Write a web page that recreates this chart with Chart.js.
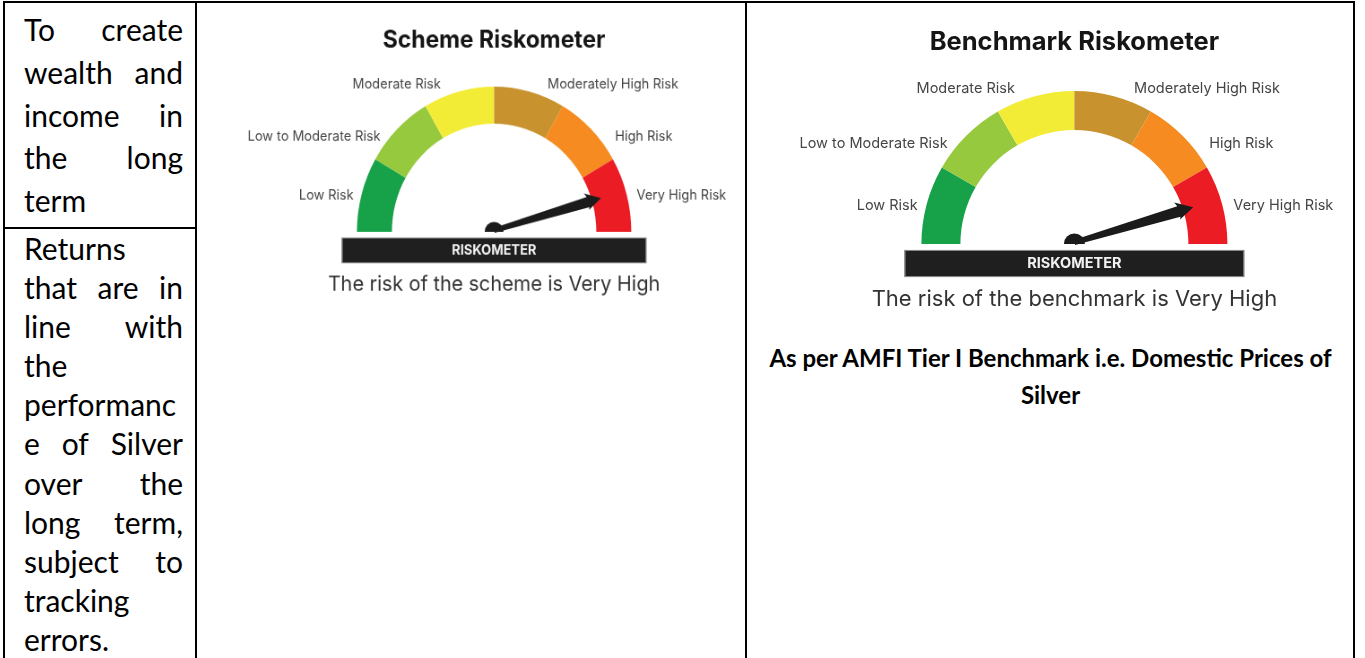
<!DOCTYPE html>
<html>
<head>
<meta charset="utf-8">
<script src="https://cdn.jsdelivr.net/npm/chart.js@4.4.1/dist/chart.umd.min.js"></script>
<style>
  body { margin:0; background:#fff; }
  #pagina { position:relative; width:1365px; height:658px; overflow:hidden; font-family: Lato, 'Liberation Sans', sans-serif; color:#000; }
  .ln { position:absolute; background:#000; }
  .celda { position:absolute; left:24px; width:159px; font-size:30px; }
  .celda div { display:flex; justify-content:space-between; white-space:nowrap; }
  canvas { position:absolute; }
  #nota { position:absolute; left:747px; width:607px; top:339px; text-align:center; font-weight:bold; font-size:24px; line-height:37px; }
</style>
</head>
<body>
<div id="pagina">
  <div class="ln" style="left:3px; top:1px; width:1352px; height:2px"></div>
  <div class="ln" style="left:3px; top:1px; width:2px; height:657px"></div>
  <div class="ln" style="left:195px; top:1px; width:2px; height:657px"></div>
  <div class="ln" style="left:745px; top:1px; width:2px; height:657px"></div>
  <div class="ln" style="left:1353px; top:1px; width:2px; height:657px"></div>
  <div class="ln" style="left:3px; top:227px; width:194px; height:2px"></div>

  <div class="celda" style="top:8px; line-height:42.8px">
    <div><span>To</span><span>create</span></div>
    <div><span>wealth</span><span>and</span></div>
    <div><span>income</span><span>in</span></div>
    <div><span>the</span><span>long</span></div>
    <div><span>term</span></div>
  </div>
  <div class="celda" style="top:229px; line-height:39.1px">
    <div><span>Returns</span></div>
    <div><span>that</span><span>are</span><span>in</span></div>
    <div><span>line</span><span>with</span></div>
    <div><span>the</span></div>
    <div><span>performanc</span></div>
    <div><span>e</span><span>of</span><span>Silver</span></div>
    <div><span>over</span><span>the</span></div>
    <div><span>long</span><span>term,</span></div>
    <div><span>subject</span><span>to</span></div>
    <div><span>tracking</span></div>
    <div><span>errors.</span></div>
  </div>

  <canvas id="esquema" width="600" height="316" style="left:205px; top:4px; width:538px; height:300px"></canvas>
  <canvas id="benchmark" width="600" height="316" style="left:752px; top:4px; width:600px; height:316px"></canvas>

  <div id="nota">As per AMFI Tier I Benchmark i.e. Domestic Prices of<br>Silver</div>
</div>
<script>
const bandas = ['Low Risk', 'Low to Moderate Risk', 'Moderate Risk', 'Moderately High Risk', 'High Risk', 'Very High Risk'];
const anchoBanda = [1, 1, 1, 1, 1, 1];
const nivelEsquema = 5.47;
const nivelBenchmark = 5.45;
const titulos = ['Scheme Riskometer', 'Benchmark Riskometer'];
const leyendas = ['The risk of the scheme is Very High', 'The risk of the benchmark is Very High'];

const coloresBanda = ['#17a24a', '#96c93d', '#f3ec37', '#c8922f', '#f58b21', '#ec1c25'];

// posicion de cada etiqueta en unidades del radio, respecto al centro del arco
const posEtiqueta = [
  [-1.024, -0.249, 'right'], [-0.828, -0.655, 'right'], [-0.389, -1.015, 'right'],
  [0.390, -1.015, 'left'], [0.881, -0.655, 'left'], [1.039, -0.249, 'left']
];

const pluginRiesgo = {
  id: 'riesgo',
  afterDatasetsDraw(chart, args, opts) {
    const arco = chart.getDatasetMeta(0).data[0];
    const cx = arco.x, cy = arco.y, r = arco.outerRadius;
    const ctx = chart.ctx;
    ctx.save();
    ctx.textBaseline = 'middle';

    ctx.fillStyle = '#151515';
    ctx.textAlign = 'center';
    ctx.font = 'bold 25.5px Inter, sans-serif';
    ctx.fillText(opts.titulo, cx, cy - 1.316 * r);

    ctx.fillStyle = '#454545';
    ctx.font = '14.5px Inter, sans-serif';
    chart.data.labels.forEach((t, i) => {
      const p = posEtiqueta[i];
      ctx.textAlign = p[2];
      ctx.fillText(t, cx + p[0] * r, cy + p[1] * r);
    });

    // aguja
    const total = anchoBanda.reduce((a, b) => a + b, 0);
    const ang = Math.PI + opts.nivel / total * Math.PI;
    const L = 0.81 * r;
    ctx.fillStyle = '#1b1b1b';
    ctx.beginPath();
    ctx.arc(cx, cy, 10.5, Math.PI, 2 * Math.PI);
    ctx.fill();
    ctx.save();
    ctx.translate(cx, cy - 1.5);
    ctx.rotate(ang);
    ctx.beginPath();
    ctx.moveTo(0, -2.5);
    ctx.lineTo(L - 15, -5.5);
    ctx.lineTo(L - 17, -10);
    ctx.lineTo(L, 0);
    ctx.lineTo(L - 16, 8);
    ctx.lineTo(L - 15, 5.5);
    ctx.lineTo(0, 2.5);
    ctx.closePath();
    ctx.fill();
    ctx.restore();

    // barra RISKOMETER
    ctx.fillStyle = '#1f1f1f';
    ctx.fillRect(cx - 1.11 * r, cy + 0.039 * r, 2.22 * r, 0.177 * r);
    ctx.strokeStyle = '#8c8c8c';
    ctx.lineWidth = 1;
    ctx.strokeRect(cx - 1.11 * r + 0.5, cy + 0.039 * r + 0.5, 2.22 * r - 1, 0.177 * r - 1);
    ctx.fillStyle = '#f2f2f2';
    ctx.textAlign = 'center';
    ctx.font = 'bold 14.5px Inter, sans-serif';
    ctx.fillText('RISKOMETER', cx, cy + 0.128 * r);

    ctx.fillStyle = '#333';
    ctx.font = '22px Inter, sans-serif';
    ctx.fillText(opts.leyenda, cx, cy + 0.36 * r);
    ctx.restore();
  }
};

function crearMedidor(id, titulo, leyenda, nivel) {
  return new Chart(document.getElementById(id), {
    type: 'doughnut',
    data: {
      labels: bandas,
      datasets: [{ data: anchoBanda, backgroundColor: coloresBanda, borderWidth: 0, hoverOffset: 0 }]
    },
    options: {
      responsive: false,
      animation: false,
      events: [],
      rotation: -90,
      circumference: 180,
      cutout: '74.5%',
      layout: { padding: { left: 169.4, right: 124.6, top: 87, bottom: 76 } },
      plugins: {
        legend: { display: false },
        tooltip: { enabled: false },
        riesgo: { titulo, leyenda, nivel }
      }
    },
    plugins: [pluginRiesgo]
  });
}

crearMedidor('esquema', titulos[0], leyendas[0], nivelEsquema);
crearMedidor('benchmark', titulos[1], leyendas[1], nivelBenchmark);
</script>
</body>
</html>
